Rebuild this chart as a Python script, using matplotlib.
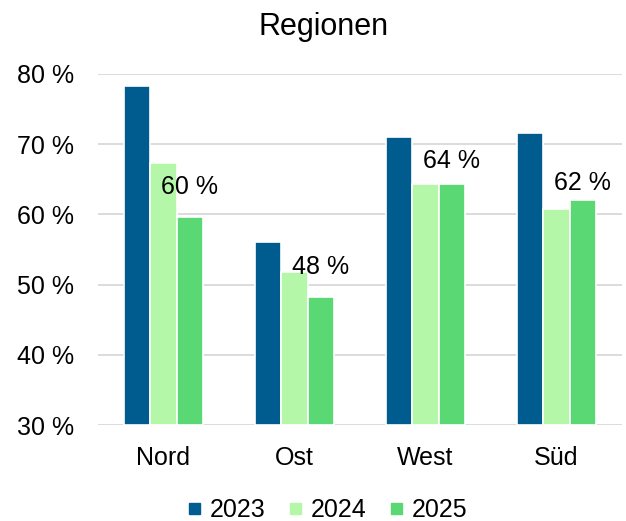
import numpy as np
import matplotlib.pyplot as plt

plt.rcParams['font.family'] = ['Liberation Sans', 'DejaVu Sans']

regions = ['Nord', 'Ost', 'West', 'Süd']
years = ['2023', '2024', '2025']
v2023 = [78.3, 56.1, 71.0, 71.6]
v2024 = [67.3, 51.8, 64.3, 60.8]
v2025 = [59.6, 48.2, 64.3, 62.1]
labels2025 = ['60 %', '48 %', '64 %', '62 %']
colors = ['#005b8e', '#b5f7a8', '#5ad874']
# label lift above the bar (points), labels were nudged by hand in the original
lift = [17, 17, 11.5, 7]

fig = plt.figure(figsize=(6.26, 5.21), dpi=100)
ax = fig.add_axes([0.1565, 0.184, 0.837, 0.674])

x = np.arange(len(regions))
w = 0.2
for i, (vals, c, lab) in enumerate(zip([v2023, v2024, v2025], colors, years)):
    bars = ax.bar(x + (i - 1) * w, np.array(vals) - 30, bottom=30, width=w,
                  color=c, edgecolor='white', linewidth=1.2, label=lab, zorder=3)
    if i == 2:
        for b, t, dy in zip(bars, labels2025, lift):
            ax.annotate(t, (b.get_x() + b.get_width() / 2, b.get_y() + b.get_height()),
                        xytext=(0, dy), textcoords='offset points',
                        ha='center', va='baseline', fontsize=18, zorder=4)

ax.set_ylim(30, 80)
ax.set_xlim(-0.5, 3.5)
ax.set_yticks(range(30, 81, 10))
ax.set_yticklabels([f'{v} %' for v in range(30, 81, 10)])
ax.set_xticks(x)
ax.set_xticklabels(regions)
ax.tick_params(labelsize=18, length=0)
ax.tick_params(axis='y', pad=17)
ax.tick_params(axis='x', pad=15)
ax.yaxis.grid(True, color='#d9d9d9', linewidth=1.3, zorder=0)
for s in ax.spines.values():
    s.set_visible(False)
fig.text(0.517, 1 - 35 / 521, 'Regionen', fontsize=22, ha='center', va='baseline')

# square legend keys without the white bar outline
handles = [plt.Rectangle((0, 0), 1, 1, color=c) for c in colors]
fig.legend(handles, years, loc='center', bbox_to_anchor=(0.524, 0.021),
           ncol=3, frameon=False, fontsize=18, handlelength=0.45, handleheight=0.3,
           handletextpad=0.36, columnspacing=1.0, borderpad=0)

fig.savefig('out.png', dpi=100)
